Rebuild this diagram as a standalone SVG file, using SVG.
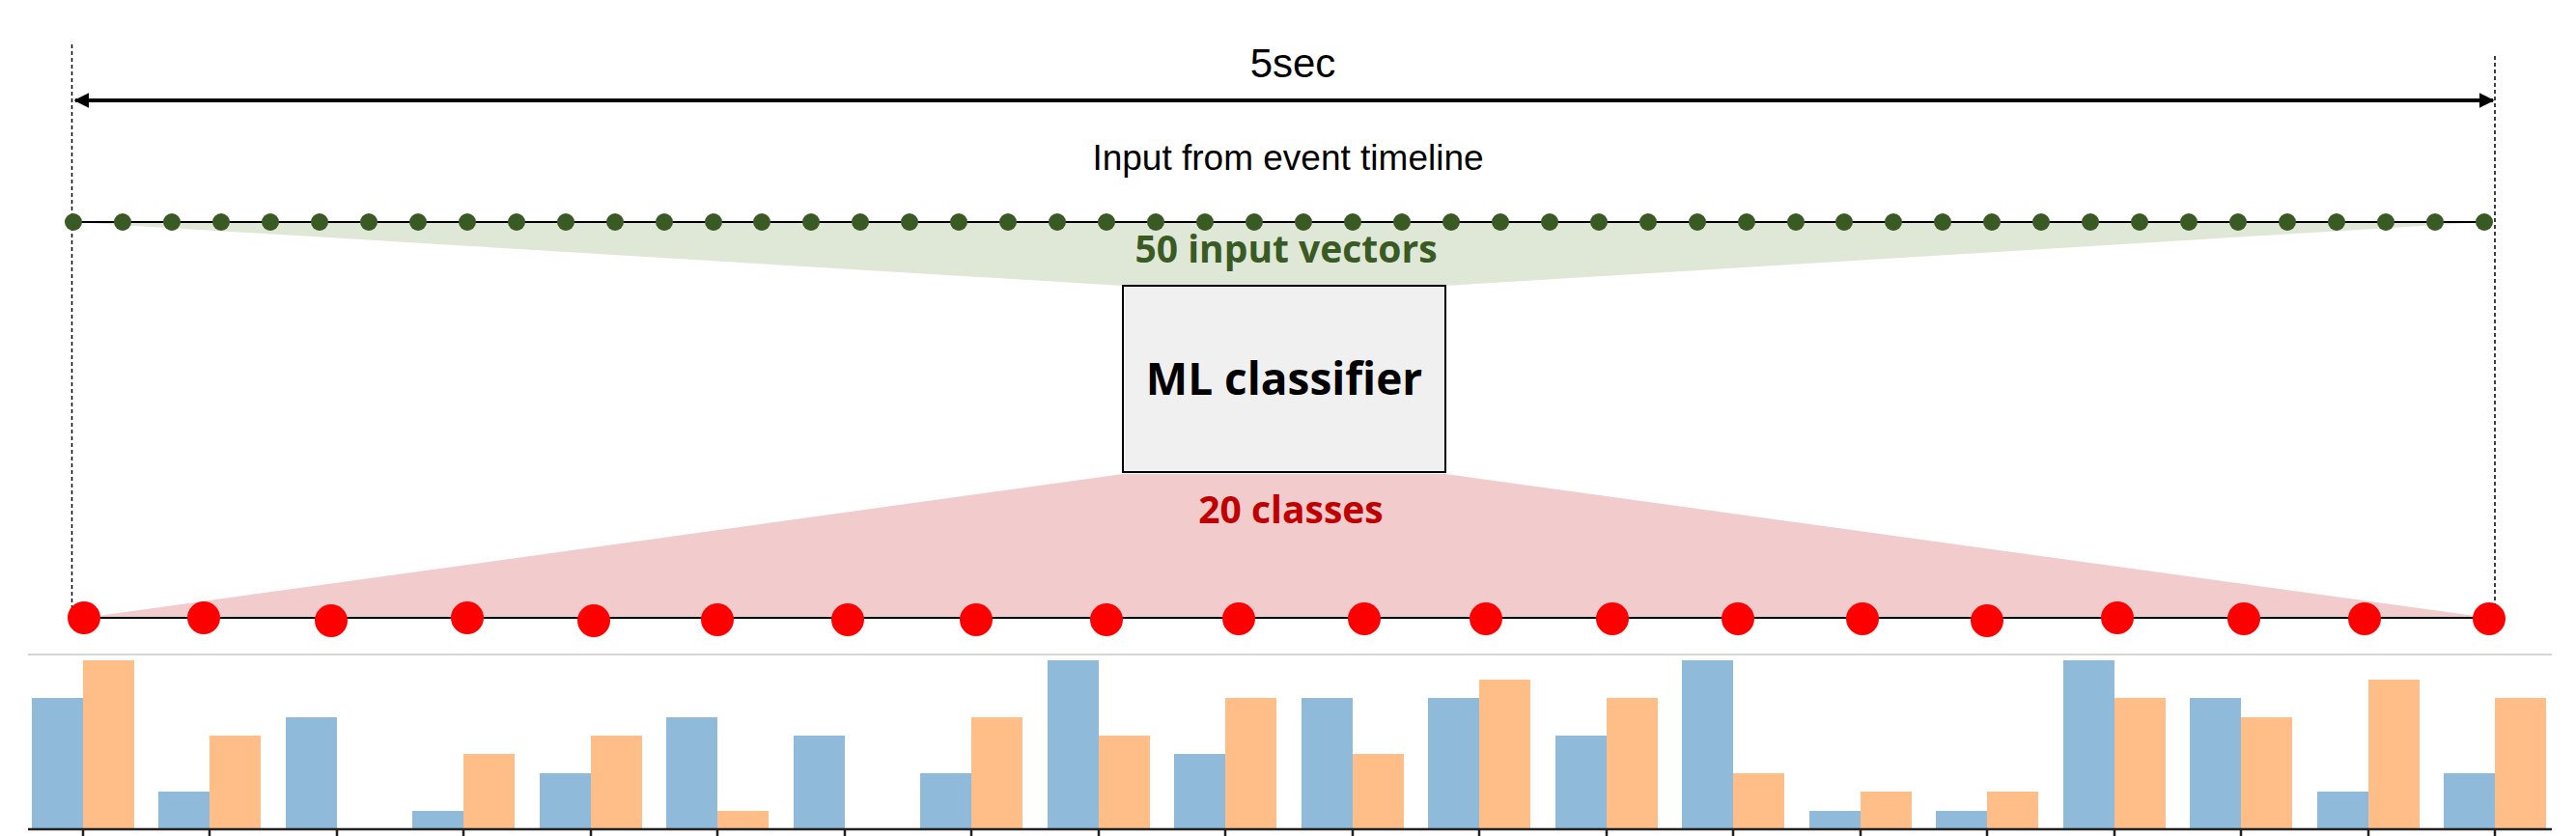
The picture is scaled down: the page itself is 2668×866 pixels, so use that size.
<svg xmlns="http://www.w3.org/2000/svg" width="2668" height="866" viewBox="0 0 2668 866">
<style>
.t{font-family:"Liberation Sans",Arial,sans-serif;text-anchor:middle}
.b{font-family:"Open Sans","Noto Sans",sans-serif;font-weight:bold;text-anchor:middle}
.gd{fill:#3a5a24}
.rd{fill:#ff0000}
.bl{fill:#8fbad9}
.or{fill:#ffbe87}
</style>
<defs>
<marker id="ah" viewBox="0 0 10 10" refX="9" refY="5" markerWidth="4" markerHeight="4" orient="auto-start-reverse"><path d="M0,0L10,5L0,10z" fill="#000"/></marker>
</defs>
<rect width="2668" height="866" fill="#fff"/>
<g id="fans">
<polygon points="76,230 2573,230 1497,296 1163,296" fill="#dfe7d7"/>
<polygon points="1163,491 1497,491 2578,640 87,640" fill="#f2cbcc"/>
</g>
<g id="connectors">
<line x1="74.5" y1="46" x2="74.5" y2="632" stroke="#000" stroke-width="1.5" stroke-dasharray="4,3"/>
<line x1="2584" y1="58" x2="2584" y2="632" stroke="#000" stroke-width="1.5" stroke-dasharray="4,3"/>
<line x1="78" y1="104" x2="2582" y2="104" stroke="#000" stroke-width="4" marker-start="url(#ah)" marker-end="url(#ah)"/>
<line x1="76" y1="230" x2="2573" y2="230" stroke="#000" stroke-width="2"/>
<line x1="87" y1="640" x2="2578" y2="640" stroke="#000" stroke-width="2"/>
<line x1="29" y1="678" x2="2643" y2="678" stroke="#c8c8c8" stroke-width="1.5"/>
</g>
<g id="labels">
<text class="t" x="1339" y="80" font-size="42">5sec</text>
<text class="t" x="1334" y="176" font-size="37">Input from event timeline</text>
<text class="b" x="1332" y="272" font-size="39" fill="#3a5a24">50 input vectors</text>
<text class="b" x="1337" y="542" font-size="39" fill="#c00000">20 classes</text>
</g>
<g id="classifier">
<rect x="1163" y="296" width="334" height="193" fill="#f0f0f0" stroke="#000" stroke-width="2"/>
<text class="b" x="1330" y="409" font-size="46" fill="#000">ML classifier</text>
</g>
<g id="inputs">
<circle class="gd" cx="76" cy="230" r="9"/><circle class="gd" cx="127" cy="230" r="9"/><circle class="gd" cx="178" cy="230" r="9"/><circle class="gd" cx="229" cy="230" r="9"/><circle class="gd" cx="280" cy="230" r="9"/><circle class="gd" cx="331" cy="230" r="9"/><circle class="gd" cx="382" cy="230" r="9"/><circle class="gd" cx="433" cy="230" r="9"/><circle class="gd" cx="484" cy="230" r="9"/><circle class="gd" cx="535" cy="230" r="9"/><circle class="gd" cx="586" cy="230" r="9"/><circle class="gd" cx="637" cy="230" r="9"/><circle class="gd" cx="688" cy="230" r="9"/><circle class="gd" cx="739" cy="230" r="9"/><circle class="gd" cx="789" cy="230" r="9"/><circle class="gd" cx="840" cy="230" r="9"/><circle class="gd" cx="891" cy="230" r="9"/><circle class="gd" cx="942" cy="230" r="9"/><circle class="gd" cx="993" cy="230" r="9"/><circle class="gd" cx="1044" cy="230" r="9"/><circle class="gd" cx="1095" cy="230" r="9"/><circle class="gd" cx="1146" cy="230" r="9"/><circle class="gd" cx="1197" cy="230" r="9"/><circle class="gd" cx="1248" cy="230" r="9"/><circle class="gd" cx="1299" cy="230" r="9"/><circle class="gd" cx="1350" cy="230" r="9"/><circle class="gd" cx="1401" cy="230" r="9"/><circle class="gd" cx="1452" cy="230" r="9"/><circle class="gd" cx="1503" cy="230" r="9"/><circle class="gd" cx="1554" cy="230" r="9"/><circle class="gd" cx="1605" cy="230" r="9"/><circle class="gd" cx="1656" cy="230" r="9"/><circle class="gd" cx="1707" cy="230" r="9"/><circle class="gd" cx="1758" cy="230" r="9"/><circle class="gd" cx="1809" cy="230" r="9"/><circle class="gd" cx="1860" cy="230" r="9"/><circle class="gd" cx="1910" cy="230" r="9"/><circle class="gd" cx="1961" cy="230" r="9"/><circle class="gd" cx="2012" cy="230" r="9"/><circle class="gd" cx="2063" cy="230" r="9"/><circle class="gd" cx="2114" cy="230" r="9"/><circle class="gd" cx="2165" cy="230" r="9"/><circle class="gd" cx="2216" cy="230" r="9"/><circle class="gd" cx="2267" cy="230" r="9"/><circle class="gd" cx="2318" cy="230" r="9"/><circle class="gd" cx="2369" cy="230" r="9"/><circle class="gd" cx="2420" cy="230" r="9"/><circle class="gd" cx="2471" cy="230" r="9"/><circle class="gd" cx="2522" cy="230" r="9"/><circle class="gd" cx="2573" cy="230" r="9"/>
</g>
<g id="classes">
<circle class="rd" cx="87" cy="640" r="17"/><circle class="rd" cx="211" cy="640" r="17"/><circle class="rd" cx="343" cy="643" r="17"/><circle class="rd" cx="484" cy="640" r="17"/><circle class="rd" cx="615" cy="643" r="17"/><circle class="rd" cx="743" cy="642" r="17"/><circle class="rd" cx="878" cy="642" r="17"/><circle class="rd" cx="1011" cy="642" r="17"/><circle class="rd" cx="1146" cy="642" r="17"/><circle class="rd" cx="1283" cy="641" r="17"/><circle class="rd" cx="1413" cy="641" r="17"/><circle class="rd" cx="1539" cy="641" r="17"/><circle class="rd" cx="1670" cy="641" r="17"/><circle class="rd" cx="1800" cy="641" r="17"/><circle class="rd" cx="1929" cy="641" r="17"/><circle class="rd" cx="2058" cy="643" r="17"/><circle class="rd" cx="2193" cy="640" r="17"/><circle class="rd" cx="2324" cy="641" r="17"/><circle class="rd" cx="2449" cy="641" r="17"/><circle class="rd" cx="2578" cy="641" r="17"/>
</g>
<g id="bars">
<rect class="bl" x="33" y="723" width="53" height="136"/><rect class="or" x="86" y="684" width="53" height="175"/>
<rect class="bl" x="164" y="820" width="53" height="39"/><rect class="or" x="217" y="762" width="53" height="97"/>
<rect class="bl" x="296" y="743" width="53" height="116"/>
<rect class="bl" x="427" y="840" width="53" height="19"/><rect class="or" x="480" y="781" width="53" height="78"/>
<rect class="bl" x="559" y="801" width="53" height="58"/><rect class="or" x="612" y="762" width="53" height="97"/>
<rect class="bl" x="690" y="743" width="53" height="116"/><rect class="or" x="743" y="840" width="53" height="19"/>
<rect class="bl" x="822" y="762" width="53" height="97"/>
<rect class="bl" x="953" y="801" width="53" height="58"/><rect class="or" x="1006" y="743" width="53" height="116"/>
<rect class="bl" x="1085" y="684" width="53" height="175"/><rect class="or" x="1138" y="762" width="53" height="97"/>
<rect class="bl" x="1216" y="781" width="53" height="78"/><rect class="or" x="1269" y="723" width="53" height="136"/>
<rect class="bl" x="1348" y="723" width="53" height="136"/><rect class="or" x="1401" y="781" width="53" height="78"/>
<rect class="bl" x="1479" y="723" width="53" height="136"/><rect class="or" x="1532" y="704" width="53" height="155"/>
<rect class="bl" x="1611" y="762" width="53" height="97"/><rect class="or" x="1664" y="723" width="53" height="136"/>
<rect class="bl" x="1742" y="684" width="53" height="175"/><rect class="or" x="1795" y="801" width="53" height="58"/>
<rect class="bl" x="1874" y="840" width="53" height="19"/><rect class="or" x="1927" y="820" width="53" height="39"/>
<rect class="bl" x="2005" y="840" width="53" height="19"/><rect class="or" x="2058" y="820" width="53" height="39"/>
<rect class="bl" x="2137" y="684" width="53" height="175"/><rect class="or" x="2190" y="723" width="53" height="136"/>
<rect class="bl" x="2268" y="723" width="53" height="136"/><rect class="or" x="2321" y="743" width="53" height="116"/>
<rect class="bl" x="2400" y="820" width="53" height="39"/><rect class="or" x="2453" y="704" width="53" height="155"/>
<rect class="bl" x="2531" y="801" width="53" height="58"/><rect class="or" x="2584" y="723" width="53" height="136"/>
<line x1="29" y1="859" x2="2643" y2="859" stroke="#222" stroke-width="2.5"/>
<path d="M86,859v7M217,859v7M349,859v7M480,859v7M612,859v7M743,859v7M875,859v7M1006,859v7M1138,859v7M1269,859v7M1401,859v7M1532,859v7M1664,859v7M1795,859v7M1927,859v7M2058,859v7M2190,859v7M2321,859v7M2453,859v7M2584,859v7" stroke="#222" stroke-width="2.5"/>
</g>
</svg>
